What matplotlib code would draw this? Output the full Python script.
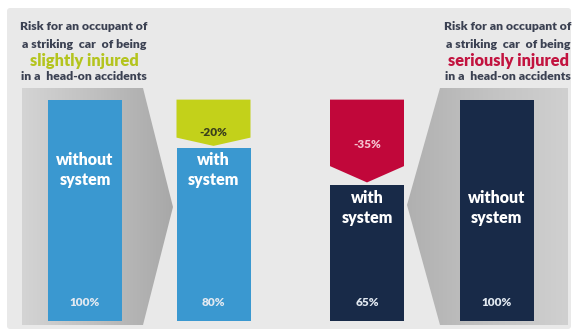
import numpy as np
import matplotlib.pyplot as plt
from matplotlib.patches import Polygon, FancyBboxPatch
from matplotlib.colors import LinearSegmentedColormap

plt.rcParams['font.family'] = ['Lato', 'DejaVu Sans']

# data
bar_names = ['without\nsystem', 'with\nsystem', 'with\nsystem', 'without\nsystem']
risk = [100, 80, 65, 100]
risk_labels = ['100%', '80%', '65%', '100%']
reduction_labels = ['-20%', '-35%']
title_lines = ['Risk for an occupant of', 'a striking  car  of being', 'in a  head-on accidents']
injury = ['slightly injured', 'seriously injured']

# layout (pixels of a 574x331 picture)
W, H = 574, 331
xpos = [85, 213.5, 367, 496.5]
bar_w = 74
base = 9.1
blue, navy = '#3a98d0', '#182a48'
bar_cols = [blue, blue, navy, navy]
wt = 'heavy'

fig = plt.figure(figsize=(W / 100, H / 100), dpi=100)
fig.patch.set_facecolor('white')

bg = fig.add_axes([0, 0, 1, 1])
bg.set_xlim(0, W)
bg.set_ylim(H, 0)
bg.axis('off')
bg.add_patch(FancyBboxPatch((7, 8), 564, 321, boxstyle='round,pad=0,rounding_size=3',
                            fc='#e9e9e9', ec='none', zorder=-5))

# big grey arrows behind the "without" bars
grad = np.linspace(0, 1, 256).reshape(1, -1)
cm_l = LinearSegmentedColormap.from_list('l', ['#d4d4d4', '#bfbfbf', '#a8a8a8'])
cm_r = LinearSegmentedColormap.from_list('r', ['#b0b0b0', '#c2c2c2', '#d0d0d0'])
shapes = [([(22, 88), (143, 88), (173, 207), (143, 325), (22, 325)], cm_l),
          ([(440, 88), (568, 88), (568, 325), (440, 325), (407, 205)], cm_r)]
for pts, cm in shapes:
    poly = Polygon(pts, closed=True, fc='none', ec='none')
    bg.add_patch(poly)
    xs = [p[0] for p in pts]
    ys = [p[1] for p in pts]
    im = bg.imshow(grad, cmap=cm, aspect='auto', zorder=2,
                   extent=(min(xs), max(xs), max(ys), min(ys)))
    im.set_clip_path(poly)
bg.set_xlim(0, W)
bg.set_ylim(H, 0)

ax = fig.add_axes([0, 0, 1, 1], zorder=1)
ax.patch.set_alpha(0)
ax.set_xlim(0, W)
ax.set_ylim(5.0, 140.9)
ax.axis('off')

ax.bar(xpos, [r - base for r in risk], bottom=base, width=bar_w, color=bar_cols)

# reduction arrows: from 100% down to the "with system" value
arrow_cols = ['#c3d11a', '#c1073a']
for bi, col in zip([1, 2], arrow_cols):
    top = risk[0] if bi == 1 else risk[3]
    v = risk[bi]
    sh = top - 0.78 * (top - v)
    tip = v + 1.0
    l, r = xpos[bi] - bar_w / 2, xpos[bi] + bar_w / 2
    ax.add_patch(Polygon([(l, top), (r, top), (r, sh), (xpos[bi], tip), (l, sh)],
                         closed=True, fc=col, ec='none'))

ax.text(xpos[1], 132, reduction_labels[0], transform=bg.transData, ha='center', va='center',
        fontsize=8.5, fontweight=wt, color='#3a3f1c')
ax.text(xpos[2], 144, reduction_labels[1], transform=bg.transData, ha='center', va='center',
        fontsize=8.5, fontweight=wt, color='#f4c3d0')

label_y = [170, 170, 208, 208]
for x, name, ly, pl in zip(xpos, bar_names, label_y, risk_labels):
    ax.text(x, ly, name, transform=bg.transData, ha='center', va='center',
            fontsize=11.5, fontweight=wt, color='white', linespacing=1.3)
    ax.text(x, 302, pl, transform=bg.transData, ha='center', va='center',
            fontsize=8.5, fontweight=wt, color='#e2e9f1')

# titles
dark = '#3b4152'
for cx, inj, icol in [(84, injury[0], '#b4c41e'), (508, injury[1], '#c2133f')]:
    ax.text(cx, 27, title_lines[0], transform=bg.transData, ha='center', va='center',
            fontsize=8.8, fontweight=wt, color=dark)
    ax.text(cx, 44, title_lines[1], transform=bg.transData, ha='center', va='center',
            fontsize=8.8, fontweight=wt, color=dark)
    ax.text(cx, 61, inj, transform=bg.transData, ha='center', va='center',
            fontsize=11.8, fontweight=wt, color=icol)
    ax.text(cx, 77, title_lines[2], transform=bg.transData, ha='center', va='center',
            fontsize=8.8, fontweight=wt, color=dark)

fig.savefig('out.png', dpi=100)
